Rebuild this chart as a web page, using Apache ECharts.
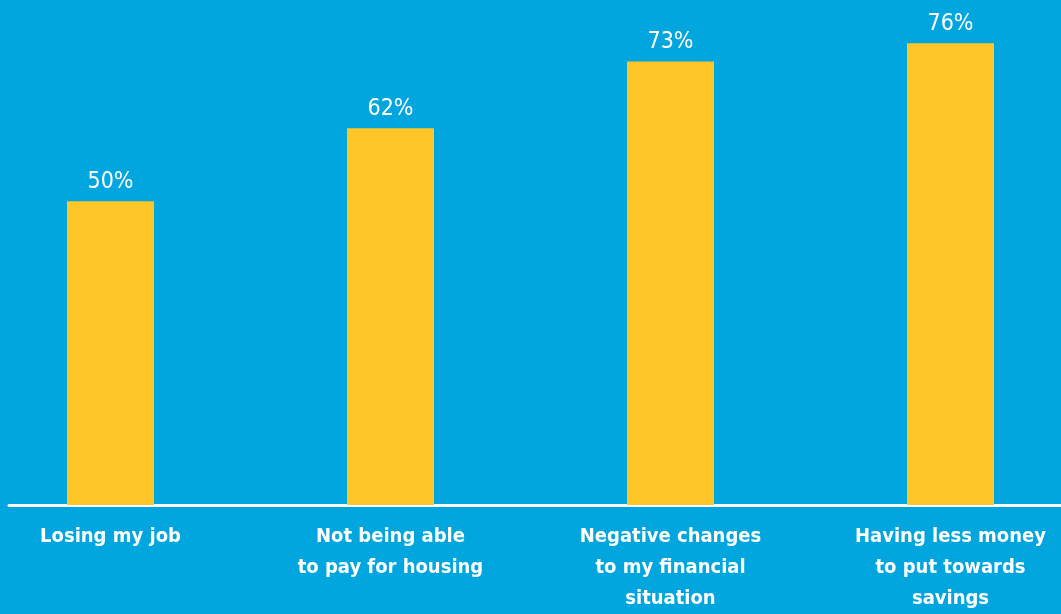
<!DOCTYPE html>
<html><head><meta charset="utf-8">
<script src="https://cdn.jsdelivr.net/npm/echarts@6/dist/echarts.min.js"></script>
<style>html,body{margin:0;padding:0;background:#02a6df;}#c{width:1061px;height:614px;}</style>
</head><body><div id="c"></div>
<script>
const categories = ["Losing my job", "Not being able\nto pay for housing", "Negative changes\nto my financial\nsituation", "Having less money\nto put towards\nsavings"];
const values = [50, 62, 73, 76];

const FONT = '"Liberation Sans Narrow", "DejaVu Sans Condensed", sans-serif';
const chart = echarts.init(document.getElementById('c'));
chart.setOption({
  backgroundColor: '#02a6df',
  animation: false,
  grid: [
    {left: 110.5, right: 110.5, top: 19, bottom: 109},
    {left: 9, right: 0, top: 19, bottom: 109}
  ],
  xAxis: [
    {type: 'category', data: categories, gridIndex: 0, boundaryGap: false,
     axisLine: {show: false}, axisTick: {show: false},
     axisLabel: {color: '#ffffff', fontFamily: FONT, fontWeight: 'bold', fontSize: 20, lineHeight: 31, margin: 16, interval: 0}},
    {type: 'value', gridIndex: 1, min: 0, max: 1,
     axisLine: {show: true, lineStyle: {color: '#ffffff', width: 3}},
     axisTick: {show: false}, axisLabel: {show: false}, splitLine: {show: false}}
  ],
  yAxis: [
    {type: 'value', gridIndex: 0, min: 0, max: 80, show: false, splitLine: {show: false}},
    {type: 'value', gridIndex: 1, min: 0, max: 1, show: false}
  ],
  series: [{
    type: 'bar', xAxisIndex: 0, yAxisIndex: 0,
    data: values, barWidth: 87,
    itemStyle: {color: '#ffc629'},
    label: {show: true, position: 'top', distance: 8, color: '#ffffff', fontFamily: FONT, fontSize: 23, formatter: '{c}%'}
  }]
});
</script></body></html>
